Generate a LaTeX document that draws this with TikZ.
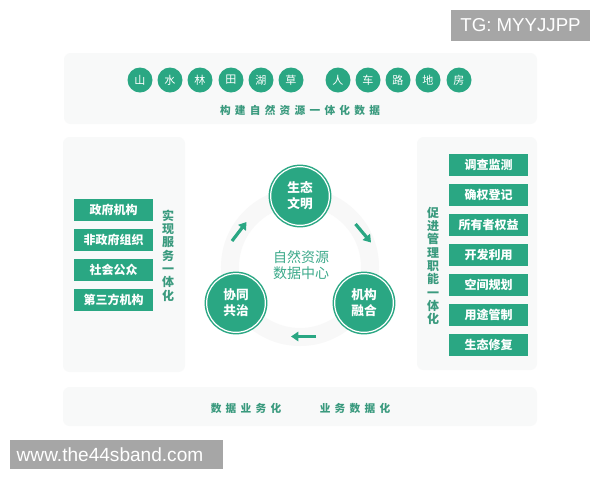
\documentclass[tikz,border=0pt]{standalone}
\usepackage{fontspec}
\newfontfamily\cjk{Noto Sans CJK SC}
\newfontfamily\lat{Liberation Sans}
\usetikzlibrary{arrows.meta}
\definecolor{gr}{HTML}{2AA783}
\definecolor{grt}{HTML}{3A9A7E}
\definecolor{grc}{HTML}{3DAA8B}
\definecolor{pnl}{HTML}{F8F9F9}
\definecolor{ring}{HTML}{F8F8F8}
\definecolor{wm}{HTML}{A6A6A6}
\newcommand\lsk{\kern3.2pt}
\tikzset{
  panel/.style={fill=pnl, rounded corners=5pt},
  topc/.style={circle, fill=gr, minimum size=18.75pt, inner sep=0pt, text=white, font=\cjk\fontsize{8.3}{9}\selectfont},
  box/.style={rectangle, fill=gr, minimum width=59.25pt, minimum height=16.5pt, inner sep=0pt, text=white, font=\cjk\bfseries\fontsize{9}{10}\selectfont},
  bigc/.style={circle, fill=gr, draw=gr, line width=1.1pt, double=white, double distance=0.9pt, minimum size=44pt, inner sep=0pt, text=white, align=center, font=\cjk\bfseries\fontsize{9.5}{12}\selectfont},
  vtext/.style={align=center, text=grt, inner sep=0pt, font=\cjk\bfseries\fontsize{9}{10}\selectfont},
  sub/.style={text=grt, inner sep=0pt, font=\cjk\bfseries\fontsize{8}{9}\selectfont},
  flow/.style={gr, line width=2.4pt, -{Triangle[length=5.5pt, width=7pt]}},
  wmark/.style={fill=wm, text=white, inner sep=0pt, font=\lat\fontsize{14}{16}\selectfont}
}
\begin{document}
\begin{tikzpicture}[x=0.75pt, y=-0.75pt]
\useasboundingbox (0,0) rectangle (600,480);
\fill[white] (0,0) rectangle (600,480);

% panels
\fill[panel] (64,53) rectangle (537,124);
\fill[panel] (63,137) rectangle (185,372);
\fill[panel] (417,137) rectangle (537,370);
\fill[panel] (63,387) rectangle (537,426);

% watermark boxes
\fill[wm] (451,10) rectangle (590,41);
\node[text=white, inner sep=0pt, font=\lat\fontsize{14}{16}\selectfont] (tg) at (520.5,25.5) {TG: MYYJJPP};
\fill[wm] (10,440) rectangle (223,469);
\node[text=white, inner sep=0pt, font=\lat\fontsize{14.3}{16}\selectfont] (www) at (110,455) {www.the44sband.com};

% top row
\foreach \c/\x [count=\i] in {山/140,水/170,林/200,田/231,湖/261,草/291,人/338,车/368,路/398,地/428,房/459}
  \node[topc] (t\i) at (\x,80) {\c};
\node[sub] (subt) at (300,110) {构\lsk 建\lsk 自\lsk 然\lsk 资\lsk 源\lsk 一\lsk 体\lsk 化\lsk 数\lsk 据};

% left boxes
\foreach \t [count=\i] in {政府机构,非政府组织,社会公众,第三方机构}
  \node[box] (l\i) at (113.5,{179.5+30*\i}) {\t};
\node[vtext] (lv) at (168,255.5) {实\\现\\服\\务\\一\\体\\化};

% right boxes
\foreach \t [count=\i] in {调查监测,确权登记,所有者权益,开发利用,空间规划,用途管制,生态修复}
  \node[box] (r\i) at (488.5,{134.5+30*\i}) {\t};
\node[vtext] (rv) at (433,266) {促\\进\\管\\理\\职\\能\\一\\体\\化};

% central cycle
\draw[ring, line width=13.5pt] (300,267) circle (70);
\node[bigc] (c1) at (300,196) {生态\\文明};
\node[bigc] (c2) at (364,303) {机构\\融合};
\node[bigc] (c3) at (236,303) {协同\\共治};
\node[align=center, text=grc, inner sep=0pt, font=\cjk\fontsize{10.5}{12.5}\selectfont] (ctr) at (301,265) {自然资源\\数据中心};

\coordinate (a1s) at (232,241);
\coordinate (a1e) at (246.5,222);
\coordinate (a2s) at (355.5,224);
\coordinate (a2e) at (371,242.5);
\coordinate (a3s) at (316,336.5);
\coordinate (a3e) at (291,336.5);
\draw[flow] (a1s) -- (a1e);
\draw[flow] (a2s) -- (a2e);
\draw[flow] (a3s) -- (a3e);

% bottom
\node[sub] (b1) at (246,408) {数\lsk 据\lsk 业\lsk 务\lsk 化};
\node[sub] (b2) at (355,408) {业\lsk 务\lsk 数\lsk 据\lsk 化};
\end{tikzpicture}
\end{document}
